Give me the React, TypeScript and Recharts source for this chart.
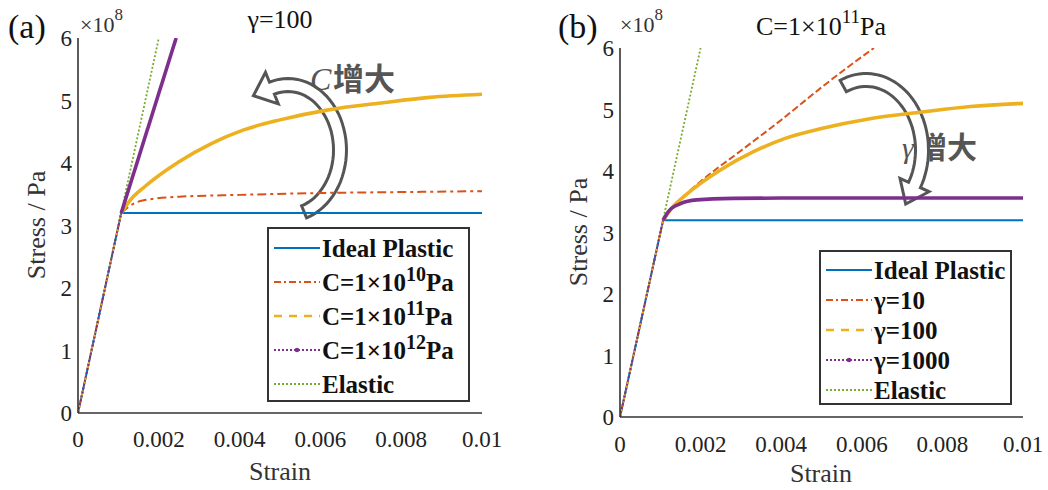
import React from 'react';
import { LineChart, Line, XAxis, YAxis, Legend } from 'recharts';

const SERIF = "'Liberation Serif', 'Times New Roman', Times, 'DejaVu Serif', serif";
const CJK = "'Noto Sans CJK SC', sans-serif";

const STRAIN_TICKS = [0, 0.002, 0.004, 0.006, 0.008, 0.01];
const STRESS_TICKS = [0, 1, 2, 3, 4, 5, 6];

// stress in units of 1e8 Pa
const idealStrain = [0, 0.00107, 0.01];
const idealStress = [0, 3.2, 3.2];
const elasticStrain = [0, 0.002];
const elasticStress = [0, 6];

// panel (a): gamma = 100, varying C
const c10Strain = [0, 0.00107, 0.0013, 0.0016, 0.0025, 0.004, 0.006, 0.008, 0.01];
const c10Stress = [0, 3.2, 3.32, 3.4, 3.46, 3.49, 3.52, 3.535, 3.55];
const c11Strain = [0, 0.00107, 0.0013, 0.00165, 0.0025, 0.0033, 0.0041, 0.005, 0.0062, 0.0075, 0.0087, 0.01];
const c11Stress = [0, 3.2, 3.41, 3.62, 4.02, 4.31, 4.53, 4.69, 4.85, 4.96, 5.05, 5.1];
const c12Strain = [0, 0.00107, 0.00243];
const c12Stress = [0, 3.2, 6];

// panel (b): C = 1e11 Pa, varying gamma
const g10Strain = [0, 0.00107, 0.0013, 0.0016, 0.002, 0.003, 0.004, 0.005, 0.0058, 0.0063];
const g10Stress = [0, 3.2, 3.41, 3.6, 3.83, 4.33, 4.83, 5.36, 5.76, 6.0];
const g100Strain = c11Strain;
const g100Stress = c11Stress;
const g1000Strain = [0, 0.00107, 0.0012, 0.0015, 0.0019, 0.0028, 0.004, 0.006, 0.01];
const g1000Stress = [0, 3.2, 3.34, 3.47, 3.53, 3.555, 3.56, 3.56, 3.56];

const legendA = ['Ideal Plastic', 'C=1×10|10|Pa', 'C=1×10|11|Pa', 'C=1×10|12|Pa', 'Elastic'];
const legendB = ['Ideal Plastic', 'γ=10', 'γ=100', 'γ=1000', 'Elastic'];

const BLUE = '#0072BD';
const RED = '#D95319';
const YELLOW = '#EDB120';
const PURPLE = '#7E2F8E';
const GREEN = '#77AC30';

const pts = (xs: number[], ys: number[]) => xs.map((x, i) => ({ x, y: ys[i] }));

type Series = {
  key: string;
  data: { x: number; y: number }[];
  color: string;
  width: number;
  dash?: string;
  legendDash?: string;
  legendWidth: number;
  marker?: boolean;
  curve: boolean;
};

const makeSeries = (red: number[][], yellow: number[][], purple: number[][], redDash: string): Series[] => [
  { key: 'ideal', data: pts(idealStrain, idealStress), color: BLUE, width: 2, legendWidth: 2.2, curve: false },
  { key: 'red', data: pts(red[0], red[1]), color: RED, width: 2, dash: redDash, legendDash: '7 3 2 3', legendWidth: 2, curve: true },
  { key: 'yellow', data: pts(yellow[0], yellow[1]), color: YELLOW, width: 3.6, legendDash: '8 7', legendWidth: 2.5, curve: true },
  { key: 'purple', data: pts(purple[0], purple[1]), color: PURPLE, width: 3.6, legendDash: '2 2', legendWidth: 2, marker: true, curve: true },
  { key: 'elastic', data: pts(elasticStrain, elasticStress), color: GREEN, width: 1.8, dash: '2 2', legendDash: '2 2', legendWidth: 2, curve: false },
];

const seriesA = makeSeries([c10Strain, c10Stress], [c11Strain, c11Stress], [c12Strain, c12Stress], '9 4 3 4');
const seriesB = makeSeries([g10Strain, g10Stress], [g100Strain, g100Stress], [g1000Strain, g1000Stress], '7 3');

function LegendLabel({ text }: { text: string }) {
  const parts = text.split('|');
  if (parts.length === 1) return <span>{text}</span>;
  return (
    <span>
      {parts[0]}
      <span style={{ fontSize: 20, position: 'relative', top: -10 }}>{parts[1]}</span>
      {parts[2]}
    </span>
  );
}

function LegendBox({ series, labels, w, h, rowH, padTop }: { series: Series[]; labels: string[]; w: number; h: number; rowH: number; padTop: number }) {
  return (
    <div
      style={{
        width: w,
        height: h,
        boxSizing: 'border-box',
        border: '2px solid #333',
        background: '#fff',
        paddingTop: padTop,
        paddingLeft: 4,
        fontFamily: SERIF,
        fontWeight: 'bold',
        fontSize: 25,
        color: '#111',
      }}
    >
      {series.map((s, i) => (
        <div key={s.key} style={{ height: rowH, display: 'flex', alignItems: 'center', whiteSpace: 'nowrap' }}>
          <svg width={49} height={12} style={{ flex: 'none' }}>
            <line x1={1} x2={47} y1={6} y2={6} stroke={s.color} strokeWidth={s.legendWidth} strokeDasharray={s.legendDash} />
            {s.marker && <circle cx={24} cy={6} r={2.3} fill={s.color} />}
          </svg>
          <span style={{ lineHeight: 1 }}>
            <LegendLabel text={labels[i]} />
          </span>
        </div>
      ))}
    </div>
  );
}

type PanelProps = {
  left: number;
  width: number;
  margin: { top: number; right: number; bottom: number; left: number };
  series: Series[];
  labels: string[];
  legendPos: { left: number; top: number; w: number; h: number; rowH: number; padTop: number };
  xTickMargin: number;
};

const AXIS = '#333';

function Panel({ left, width, margin, series, labels, legendPos, xTickMargin }: PanelProps) {
  const tickStyle = { fill: '#222', fontSize: 23, fontFamily: SERIF };
  const lines: React.ReactNode[] = [];
  // elastic reference line first so the shared elastic segment shows the curves on top
  const order = [series[4], series[0], series[1], series[2], series[3]];
  order.forEach((s) => {
    if (s.curve) {
      lines.push(
        <Line
          key={s.key + '-el'}
          xAxisId="b"
          yAxisId="l"
          data={s.data.slice(0, 2)}
          dataKey="y"
          type="linear"
          stroke={s.color}
          strokeWidth={1.8}
          strokeDasharray={s.legendDash}
          dot={false}
          isAnimationActive={false}
        />,
        <Line
          key={s.key + '-pl'}
          xAxisId="b"
          yAxisId="l"
          data={s.data.slice(1)}
          dataKey="y"
          type="monotone"
          stroke={s.color}
          strokeWidth={s.width}
          strokeDasharray={s.dash}
          dot={false}
          isAnimationActive={false}
        />
      );
    } else {
      lines.push(
        <Line
          key={s.key}
          xAxisId="b"
          yAxisId="l"
          data={s.data}
          dataKey="y"
          type="linear"
          stroke={s.color}
          strokeWidth={s.width}
          strokeDasharray={s.dash}
          dot={false}
          isAnimationActive={false}
        />
      );
    }
  });
  const xCommon = { type: 'number' as const, domain: [0, 0.01], ticks: STRAIN_TICKS, interval: 0, allowDataOverflow: true, stroke: AXIS, strokeWidth: 1.6 };
  const yCommon = { type: 'number' as const, domain: [0, 6], ticks: STRESS_TICKS, interval: 0, allowDataOverflow: true, stroke: AXIS, strokeWidth: 1.6 };
  return (
    <div style={{ position: 'absolute', left, top: 0 }}>
      <LineChart width={width} height={490} margin={margin}>
        <XAxis xAxisId="b" dataKey="x" {...xCommon} tickLine={false} tickSize={0} tickMargin={xTickMargin} height={40} tick={tickStyle} />
        <XAxis xAxisId="bt" orientation="bottom" mirror {...xCommon} tick={false} tickSize={7} height={0} />
        <XAxis xAxisId="t" orientation="top" mirror {...xCommon} tick={false} tickSize={7} height={0} />
        <YAxis yAxisId="l" {...yCommon} tickLine={false} tickSize={0} tickMargin={6} width={40} tick={tickStyle} />
        <YAxis yAxisId="lt" orientation="left" mirror {...yCommon} tick={false} tickSize={7} width={0} />
        <YAxis yAxisId="r" orientation="right" mirror {...yCommon} tick={false} tickSize={7} width={0} />
        {lines}
        <Legend
          layout="vertical"
          align="center"
          verticalAlign="middle"
          wrapperStyle={{ left: legendPos.left, top: legendPos.top, width: legendPos.w, height: legendPos.h }}
          content={() => (
            <LegendBox series={series} labels={labels} w={legendPos.w} h={legendPos.h} rowH={legendPos.rowH} padTop={legendPos.padTop} />
          )}
        />
      </LineChart>
    </div>
  );
}

// outlined curved arrow following an ellipse arc (annotation only)
function arrowPath(cx: number, cy: number, rx: number, ry: number, t0: number, t1: number, half: number, headHalf: number, headLen: number) {
  const n = 40;
  const dir = Math.sign(t1 - t0);
  const leftE: number[][] = [];
  const rightE: number[][] = [];
  let end = { px: 0, py: 0, tx: 0, ty: 0, nx: 0, ny: 0 };
  for (let i = 0; i <= n; i++) {
    const t = ((t0 + ((t1 - t0) * i) / n) * Math.PI) / 180;
    const px = cx + rx * Math.cos(t);
    const py = cy + ry * Math.sin(t);
    let tx = -rx * Math.sin(t) * dir;
    let ty = ry * Math.cos(t) * dir;
    const l = Math.hypot(tx, ty);
    tx /= l;
    ty /= l;
    const nx = -ty;
    const ny = tx;
    leftE.push([px + half * nx, py + half * ny]);
    rightE.push([px - half * nx, py - half * ny]);
    end = { px, py, tx, ty, nx, ny };
  }
  const hl = [end.px + headHalf * end.nx, end.py + headHalf * end.ny];
  const hr = [end.px - headHalf * end.nx, end.py - headHalf * end.ny];
  const tip = [end.px + headLen * end.tx, end.py + headLen * end.ty];
  const all = [...leftE, hl, tip, hr, ...rightE.reverse()];
  return 'M' + all.map((p) => p[0].toFixed(1) + ',' + p[1].toFixed(1)).join(' L') + ' Z';
}

export default function App() {
  const ann = '#555';
  return (
    <div style={{ position: 'absolute', left: 0, top: 0, width: 1048, height: 490, background: '#fff', overflow: 'hidden', fontFamily: SERIF }}>
      <svg width={1048} height={490} style={{ position: 'absolute', left: 0, top: 0 }}>
        <text x={902} y={158} fill={ann} fontFamily={SERIF} fontStyle="italic" fontSize={30}>
          γ
        </text>
        <text x={917} y={158} fill={ann} fontFamily={CJK} fontWeight="bold" fontSize={30}>
          增大
        </text>
        <path d={arrowPath(288, 150, 52, 65, 72, -108, 6.5, 17, 20)} fill="#fff" stroke={ann} strokeWidth={3} strokeLinejoin="miter" />
        <path d={arrowPath(866, 150, 56, 70, -114, 30, 6.5, 16, 21)} fill="#fff" stroke={ann} strokeWidth={3} strokeLinejoin="miter" />
      </svg>
      <Panel
        left={0}
        width={540}
        margin={{ top: 38, right: 58, bottom: 37, left: 38 }}
        series={seriesA}
        labels={legendA}
        legendPos={{ left: 267, top: 227, w: 203, h: 175, rowH: 34, padTop: 2 }}
        xTickMargin={18}
      />
      <Panel
        left={540}
        width={508}
        margin={{ top: 48, right: 25, bottom: 33, left: 40 }}
        series={seriesB}
        labels={legendB}
        legendPos={{ left: 279, top: 250, w: 193, h: 155, rowH: 30, padTop: 3 }}
        xTickMargin={19}
      />
      <svg width={1048} height={490} style={{ position: 'absolute', left: 0, top: 0, pointerEvents: 'none' }}>
        <g fontFamily={SERIF} fill="#111">
          <text x={8} y={38} fontSize={34}>(a)</text>
          <text x={558} y={38} fontSize={34}>(b)</text>
          <text x={80} y={32} fontSize={22} fill="#333">
            ×10<tspan dy={-12} fontSize={17}>8</tspan>
          </text>
          <text x={620} y={32} fontSize={22} fill="#333">
            ×10<tspan dy={-12} fontSize={17}>8</tspan>
          </text>
          <text x={280} y={28} fontSize={26} textAnchor="middle">γ=100</text>
          <text x={821} y={35} fontSize={26} textAnchor="middle">
            C=1×10<tspan dy={-12} fontSize={19}>11</tspan>
            <tspan dy={12}>Pa</tspan>
          </text>
          <text x={280} y={480} fontSize={26} textAnchor="middle" fill="#333">Strain</text>
          <text x={821} y={482} fontSize={26} textAnchor="middle" fill="#333">Strain</text>
          <text x={45} y={225} fontSize={26} textAnchor="middle" fill="#333" transform="rotate(-90 45 225)">Stress / Pa</text>
          <text x={587} y={232} fontSize={26} textAnchor="middle" fill="#333" transform="rotate(-90 587 232)">Stress / Pa</text>
        </g>
        <text x={310} y={90} fill={ann} fontFamily={SERIF} fontStyle="italic" fontSize={32}>C</text>
        <text x={333} y={90} fill={ann} fontFamily={CJK} fontWeight="bold" fontSize={31}>增大</text>
      </svg>
    </div>
  );
}
